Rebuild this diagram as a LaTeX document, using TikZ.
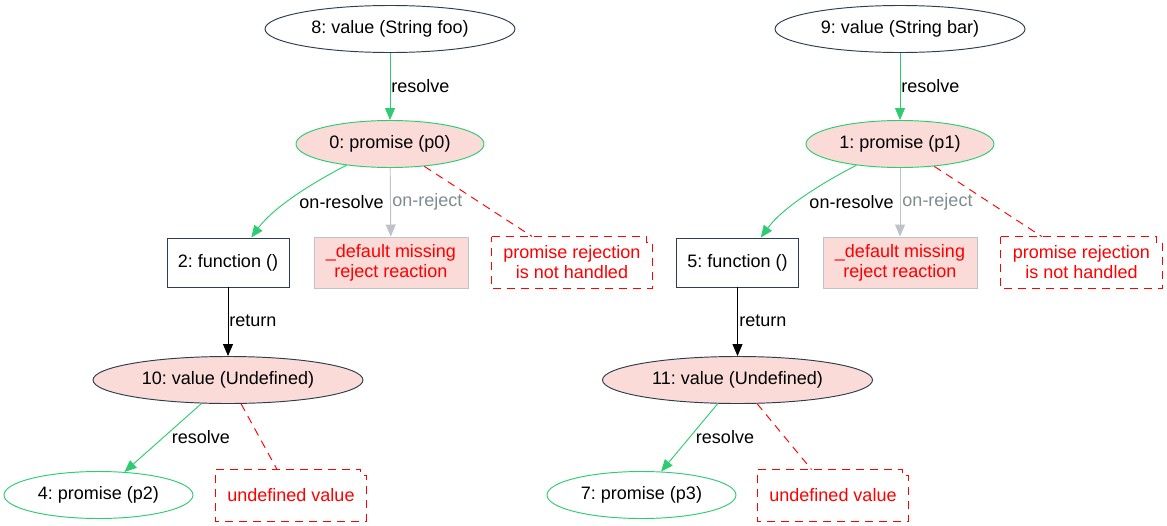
\documentclass[tikz,border=0pt]{standalone}
\usepackage{fontspec}
\setmainfont{Liberation Sans}
\usepackage{tikz}
\usetikzlibrary{arrows.meta,
shapes.geometric
}
\frenchspacing
\definecolor{gvgreen}{HTML}{2ECC71}
\definecolor{gvdark}{HTML}{2C3E50}
\definecolor{gvpink}{HTML}{FADBD8}
\definecolor{gvsilver}{HTML}{BDC3C7}
\definecolor{gvgrey}{HTML}{7F8C8D}
\definecolor{gvred}{HTML}{FF0000}
\tikzset{>={Triangle[length=12pt, width=10pt]}}
\tikzset{
  every node/.style={font=\fontsize{18}{20}\selectfont},
  valuenode/.style={ellipse, draw=gvdark, inner sep=0pt, minimum height=47pt},
  promisenode/.style={ellipse, draw=gvgreen, inner sep=0pt, minimum height=47pt, minimum width=189pt},
  funcnode/.style={rectangle, draw=gvdark, fill=white, inner sep=0pt, minimum width=122pt, minimum height=49pt},
  defaultnode/.style={rectangle, draw=gvsilver, fill=gvpink, text=gvred, align=center, inner sep=0pt, minimum width=154pt, minimum height=51pt},
  notenode/.style={rectangle, text=gvred, align=center, inner sep=0pt, minimum height=51pt},
  notedash/.style={draw=gvred, dash pattern=on 8pt off 6pt},
  resolveedge/.style={->, draw=gvgreen},
  rejectedge/.style={->, draw=gvsilver},
  returnedge/.style={->, draw=black},
  edgelabel/.style={inner sep=0pt}
}
% dashed note outline with folded corner
\newcommand{\foldnote}[1]{%
  \draw[notedash] (#1.north west) -- ([xshift=-6pt]#1.north east)
    -- ([xshift=-6pt,yshift=-6pt]#1.north east) -- ([yshift=-6pt]#1.north east)
    -- (#1.south east) -- (#1.south west) -- cycle;}

\begin{document}
\begin{tikzpicture}[x=1pt, y=-1pt, line width=0.95pt]
    \useasboundingbox (0,0) rectangle (1167,525);
    % first chain
    \node[valuenode, fill=white, minimum width=250pt] (v8) at (390,29) {8: value (String foo)};
    \node[promisenode, fill=gvpink, minimum width=188pt] (p0) at (390,144) {0: promise (p0)};
    \node[funcnode] (f2) at (228,262.5) {2: function ()};
    \node[defaultnode] (d0) at (391,262.5) {\_default missing\\reject reaction};
    \node[notenode, minimum width=160pt] (r0) at (572,262.5) {promise rejection\\is not handled};
    \node[valuenode, fill=gvpink, minimum width=270pt] (v10) at (228,380) {10: value (Undefined)};
    \node[promisenode, fill=white] (p2) at (98.5,495) {4: promise (p2)};
    \node[notenode, minimum width=150pt] (u0) at (291,495) {undefined value};
    \foldnote{r0}
    \foldnote{u0}

    \draw[resolveedge] (v8) -- (p0);
    \node[edgelabel, anchor=west] (l8) at (391,86) {resolve};
    \draw[resolveedge] (p0.206) .. controls +(-35,18) and +(22,-30) .. (f2.47);
    \node[edgelabel, anchor=east] (l0a) at (384,202) {on-resolve};
    \draw[rejectedge] (p0) -- (d0);
    \node[edgelabel, anchor=west, text=gvgrey] (l0b) at (392,202) {on-reject};
    \draw[notedash] (p0) -- (r0);
    \draw[returnedge] (f2) -- (v10);
    \node[edgelabel, anchor=west] (l2) at (229,321) {return};
    \draw[resolveedge] (v10) -- (p2);
    \node[edgelabel] (l10) at (201,437) {resolve};
    \draw[notedash] (v10) -- (u0);

    % second chain
    \node[valuenode, fill=white, minimum width=250pt] (v9) at (900,29) {9: value (String bar)};
    \node[promisenode, fill=gvpink, minimum width=188pt] (p1) at (900,144) {1: promise (p1)};
    \node[funcnode] (f5) at (737.5,262.5) {5: function ()};
    \node[defaultnode] (d1) at (900,262.5) {\_default missing\\reject reaction};
    \node[notenode, minimum width=161pt] (r1) at (1081.5,262.5) {promise rejection\\is not handled};
    \node[valuenode, fill=gvpink, minimum width=270pt] (v11) at (737.5,380) {11: value (Undefined)};
    \node[promisenode, fill=white] (p3) at (641.5,495) {7: promise (p3)};
    \node[notenode, minimum width=150pt] (u1) at (833,495.5) {undefined value};
    \foldnote{r1}
    \foldnote{u1}

    \draw[resolveedge] (v9) -- (p1);
    \node[edgelabel, anchor=west] (l9) at (901,86) {resolve};
    \draw[resolveedge] (p1.206) .. controls +(-35,18) and +(22,-30) .. (f5.47);
    \node[edgelabel, anchor=east] (l1a) at (894,202) {on-resolve};
    \draw[rejectedge] (p1) -- (d1);
    \node[edgelabel, anchor=west, text=gvgrey] (l1b) at (902,202) {on-reject};
    \draw[notedash] (p1) -- (r1);
    \draw[returnedge] (f5) -- (v11);
    \node[edgelabel, anchor=west] (l5) at (739,321) {return};
    \draw[resolveedge] (v11) -- (p3);
    \node[edgelabel] (l11) at (725,437) {resolve};
    \draw[notedash] (v11) -- (u1);
\end{tikzpicture}
\end{document}
